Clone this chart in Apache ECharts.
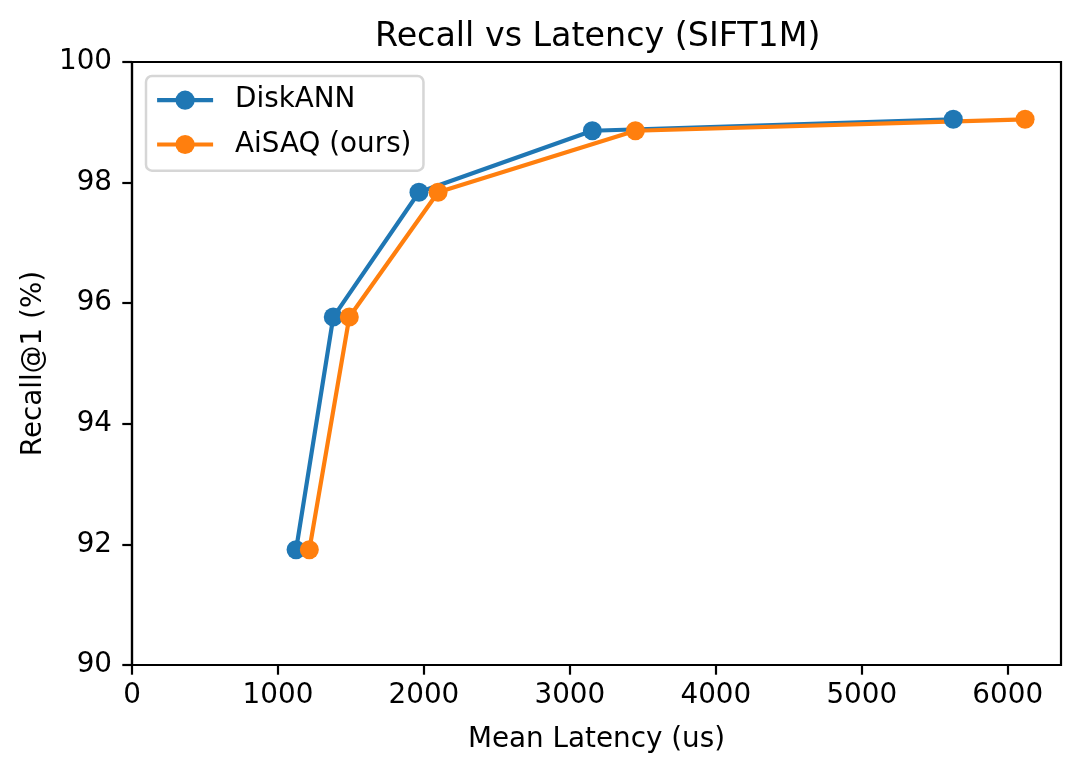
<!DOCTYPE html>
<html>
<head>
<meta charset="utf-8">
<script src="https://cdn.jsdelivr.net/npm/echarts@6/dist/echarts.min.js"></script>
<style>
  html, body { margin: 0; padding: 0; background: #ffffff; }
  #chart { width: 1081px; height: 773px; }
</style>
</head>
<body>
<div id="chart"></div>
<script>
// ---- data ----
const seriesNames = ['DiskANN', 'AiSAQ (ours)'];
const latencyDiskANN = [1124, 1379, 1966, 3154, 5627];
const recallDiskANN = [91.91, 95.77, 97.84, 98.86, 99.05];
const latencyAiSAQ = [1215, 1489, 2097, 3449, 6119];
const recallAiSAQ = [91.91, 95.77, 97.84, 98.86, 99.05];
const xTicks = [0, 1000, 2000, 3000, 4000, 5000, 6000];
const yTicks = [90, 92, 94, 96, 98, 100];

const FONT = 'DejaVu Sans';
const FS = 27.8;

function pairs(xs, ys) { return xs.map((x, i) => [x, ys[i]]); }

const chart = echarts.init(document.getElementById('chart'), null, { renderer: 'canvas' });
const axisCommon = {
  axisLine: { show: true, onZero: false, lineStyle: { color: '#000', width: 2.2 } },
  axisTick: { show: true, inside: false, length: 9.7, lineStyle: { color: '#000', width: 2.2 } },
  splitLine: { show: false },
  nameTextStyle: { fontFamily: FONT, fontSize: FS, color: '#000' }
};
chart.setOption({
  backgroundColor: '#ffffff',
  animation: false,
  title: {
    text: 'Recall vs Latency (SIFT1M)',
    left: 370,
    top: 16,
    textStyle: { fontFamily: FONT, fontSize: 33.3, fontWeight: 'normal', color: '#000' }
  },
  grid: {
    left: 132, right: 20, top: 62, bottom: 108,
    show: true, borderColor: '#000', borderWidth: 2.2, backgroundColor: 'transparent'
  },
  legend: {
    orient: 'vertical',
    left: 146, top: 76,
    padding: [9, 12, 11, 9],
    itemWidth: 56,
    itemHeight: 24,
    itemGap: 13.9,
    backgroundColor: 'rgba(255,255,255,0.8)',
    borderColor: '#d6d6d6',
    borderWidth: 2.5,
    borderRadius: 6,
    lineStyle: { width: 4.2 },
    textStyle: { fontFamily: FONT, fontSize: FS, color: '#000', lineHeight: 30.4, padding: [0, 0, 0, 17] },
    data: seriesNames
  },
  xAxis: Object.assign({}, axisCommon, {
    type: 'value',
    min: 0, max: 6365, interval: 1000,
    name: 'Mean Latency (us)',
    nameLocation: 'middle',
    nameGap: 61,
    axisTick: Object.assign({}, axisCommon.axisTick, { customValues: xTicks }),
    axisLabel: { customValues: xTicks, margin: 17, fontFamily: FONT, fontSize: FS, color: '#000',
      formatter: v => String(v) }
  }),
  yAxis: Object.assign({}, axisCommon, {
    type: 'value',
    min: 90, max: 100, interval: 2,
    name: 'Recall@1 (%)',
    nameLocation: 'middle',
    nameGap: 84,
    axisTick: Object.assign({}, axisCommon.axisTick, { customValues: yTicks }),
    axisLabel: { customValues: yTicks, margin: 20, fontFamily: FONT, fontSize: FS, color: '#000',
      formatter: v => String(v) }
  }),
  series: [
    {
      name: seriesNames[0], type: 'line',
      data: pairs(latencyDiskANN, recallDiskANN),
      symbol: 'circle', symbolSize: 19,
      lineStyle: { width: 4.2, color: '#1f77b4' },
      itemStyle: { color: '#1f77b4' }
    },
    {
      name: seriesNames[1], type: 'line',
      data: pairs(latencyAiSAQ, recallAiSAQ),
      symbol: 'circle', symbolSize: 19,
      lineStyle: { width: 4.2, color: '#ff7f0e' },
      itemStyle: { color: '#ff7f0e' }
    }
  ]
});
</script>
</body>
</html>
